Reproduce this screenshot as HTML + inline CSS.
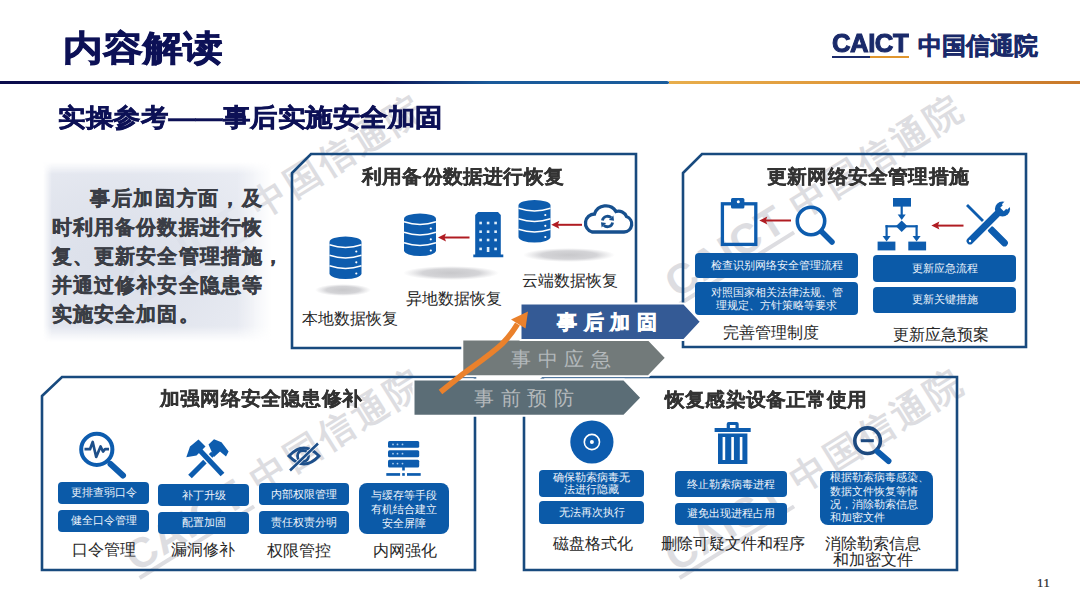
<!DOCTYPE html>
<html><head><meta charset="utf-8">
<style>
*{margin:0;padding:0;box-sizing:border-box}
html,body{width:1080px;height:608px;overflow:hidden;background:#fff}
body{position:relative;font-family:"Liberation Sans",sans-serif;color:#222}
.a{position:absolute;white-space:nowrap}
.t{position:absolute;white-space:nowrap;line-height:1}
.btn{position:absolute;background:#0b5aa8;border-radius:4px;color:#eef4fb;font-size:11px;text-align:center;line-height:13px;display:flex;align-items:center;justify-content:center;flex-direction:column;white-space:nowrap}
.lbl{position:absolute;white-space:nowrap;font-size:16px;line-height:1;color:#262626}
.hd{position:absolute;white-space:nowrap;font-size:20px;line-height:1;font-weight:bold;color:#333;-webkit-text-stroke:0.3px #333;transform:scale(1.01,0.97);transform-origin:0 0}
.wm{position:absolute;white-space:nowrap;height:38px;width:330px;color:#dddde1;display:flex;align-items:center}
.wc{display:inline-block;font-size:42px;font-weight:bold;line-height:38px;width:135px;letter-spacing:1px}
.wz{display:inline-block;font-size:36px;font-weight:bold;line-height:38px;letter-spacing:3.5px;margin-left:14px}
.wu{position:absolute;left:0;top:37px;width:135px;height:4px;background:#dddde1}
</style></head><body>

<!-- WATERMARKS -->
<div class="wm" style="left:128.8px;top:268.3px;transform:rotate(-32deg);transform-origin:0 19px"><span class="wc">CAICT</span><span class="wz">中国信通院</span><span class="wu"></span></div>
<div class="wm" style="left:668.8px;top:268.3px;transform:rotate(-32deg);transform-origin:0 19px"><span class="wc">CAICT</span><span class="wz">中国信通院</span><span class="wu"></span></div>
<div class="wm" style="left:128.8px;top:541.8px;transform:rotate(-32deg);transform-origin:0 19px"><span class="wc">CAICT</span><span class="wz">中国信通院</span><span class="wu"></span></div>
<div class="wm" style="left:668.8px;top:541.8px;transform:rotate(-32deg);transform-origin:0 19px"><span class="wc">CAICT</span><span class="wz">中国信通院</span><span class="wu"></span></div>

<!-- TITLE -->
<div class="t" style="left:63px;top:29.8px;font-size:40px;font-weight:bold;color:#0d1156;-webkit-text-stroke:1px #0d1156;transform:scaleY(0.88);transform-origin:0 0">内容解读</div>

<!-- LOGO -->
<div class="t" style="left:832px;top:30.8px;font-size:25px;font-weight:bold;color:#1a2a6a;-webkit-text-stroke:1px #1a2a6a;transform:scaleX(1.03);transform-origin:0 0;letter-spacing:-0.5px">CAICT</div>
<div class="a" style="left:832px;top:55.5px;width:38px;height:2.2px;background:#1a2a6a"></div>
<div class="a" style="left:870px;top:55.5px;width:39px;height:2.2px;background:#e0962e"></div>
<div class="t" style="left:918px;top:34px;font-size:24.2px;font-weight:bold;color:#1a2a6a;-webkit-text-stroke:0.6px #1a2a6a">中国信通院</div>

<!-- HEADER LINE -->
<div class="a" style="left:0;top:81px;width:671px;height:3.2px;background:linear-gradient(90deg,#0a0c4c 0px,#0b1050 380px,#1a5a9a 490px,#1a5c9c 671px);clip-path:polygon(0 0,667px 0,671px 50%,667px 100%,0 100%)"></div>
<div class="a" style="left:669px;top:81px;width:411px;height:3.2px;background:linear-gradient(90deg,#e8ae4c,#e09a3c 40%,#c8782a)"></div>

<!-- SUBTITLE -->
<div class="t" style="left:57.5px;top:106.2px;font-size:26.7px;font-weight:bold;color:#0d1156;-webkit-text-stroke:0.6px #0d1156;transform:scale(1.02,0.93);transform-origin:0 0">实操参考——事后实施安全加固</div>

<!-- LEFT TEXT BOX -->
<div class="a" style="left:43px;top:162px;width:228px;height:180px;-webkit-mask-image:linear-gradient(180deg,transparent 0,#000 12px,#000 164px,transparent 180px)"><div style="width:100%;height:100%;-webkit-mask-image:linear-gradient(90deg,transparent 0,#000 9px,#000 195px,transparent 228px);background:radial-gradient(ellipse 75% 70% at 30% 55%,rgba(214,219,231,0.88) 0%,rgba(221,225,235,0.88) 55%,rgba(230,233,241,0.88) 100%)"></div></div>
<div class="a" style="left:0;top:188px;font-size:20px;font-weight:bold;color:#3a3d45;line-height:20px;-webkit-text-stroke:0.4px #3a3d45">
<div class="a" style="left:90px;top:0;letter-spacing:1.7px">事后加固方面，及</div>
<div class="a" style="left:51.5px;top:29px;letter-spacing:1.2px">时利用备份数据进行恢</div>
<div class="a" style="left:51.5px;top:58px;letter-spacing:1.2px">复、更新安全管理措施，</div>
<div class="a" style="left:51.5px;top:87px;letter-spacing:1.2px">并通过修补安全隐患等</div>
<div class="a" style="left:51.5px;top:116px;letter-spacing:1.2px">实施安全加固。</div>
</div>

<!-- SHAPES -->
<svg class="a" style="left:0;top:0" width="1080" height="608" viewBox="0 0 1080 608">
 <defs>
  <g id="db">
   <path d="M0 5.5 A16 5.5 0 0 1 32 5.5 V37 A16 5.5 0 0 1 0 37 Z" fill="#0d5cae"/>
   <g fill="none" stroke="#fff" stroke-width="1.5">
    <path d="M0 8.3 Q16 13.5 32 8.3"/>
    <path d="M0 18.8 Q16 24 32 18.8"/>
    <path d="M0 29.3 Q16 34.5 32 29.3"/>
   </g>
   <g fill="#fff"><circle cx="26.8" cy="15" r="1.1"/><circle cx="26.8" cy="25.8" r="1.1"/><circle cx="26.8" cy="37" r="1.1"/></g>
  </g>
  <radialGradient id="sh"><stop offset="0" stop-color="#c8c8cb"/><stop offset="0.6" stop-color="#d4d4d7"/><stop offset="1" stop-color="#dcdcdf" stop-opacity="0"/></radialGradient>
 </defs>

 <!-- frames -->
 <g fill="none" stroke="#184a7e" stroke-width="2.6">
  <path d="M292 173 L311 154 L636 154 L636 348 L292 348 Z"/>
  <path d="M683 173 L702 154 L1026 154 L1026 347 L683 347 Z"/>
  <path d="M42 396 L62 377 L475 377 L475 570 L42 570 Z"/>
  <path d="M524 396 L544 377 L957 377 L957 570 L524 570 Z"/>
 </g>

 <!-- shadows -->
 <ellipse cx="343" cy="290" rx="28" ry="6" fill="url(#sh)"/>
 <ellipse cx="451" cy="273" rx="48" ry="7" fill="url(#sh)"/>
 <ellipse cx="569" cy="255" rx="46" ry="7" fill="url(#sh)"/>

 <!-- DB icons -->
 <use href="#db" x="329.5" y="236.5"/>
 <use href="#db" x="404" y="213.5"/>
 <use href="#db" x="518.5" y="200"/>

 <!-- building -->
 <path d="M478 212 H498 L500.8 215 V254.5 H503.3 V257.2 H473.3 V254.5 H475.2 V215 Z" fill="#0d5cae"/>
 <g fill="#dfeefa">
  <rect x="479.3" y="221.7" width="2.6" height="2.6"/><rect x="486.8" y="221.7" width="2.6" height="2.6"/><rect x="494.3" y="221.7" width="2.6" height="2.6"/>
  <rect x="479.3" y="230.4" width="2.6" height="2.6"/><rect x="486.8" y="230.4" width="2.6" height="2.6"/><rect x="494.3" y="230.4" width="2.6" height="2.6"/>
  <rect x="479.3" y="238.7" width="2.6" height="2.6"/><rect x="486.8" y="238.7" width="2.6" height="2.6"/><rect x="494.3" y="238.7" width="2.6" height="2.6"/>
  <rect x="479.3" y="247.6" width="2.6" height="2.6"/><rect x="486.8" y="247" width="2.6" height="5"/><rect x="494.3" y="247.6" width="2.6" height="2.6"/>
 </g>

 <!-- cloud -->
 <path d="M592 232 H624 A8 8 0 0 0 626.5 216.5 A8.5 8.5 0 0 0 616 211.5 A12 12 0 0 0 594.5 214 A9.2 9.2 0 0 0 592 232 Z" fill="none" stroke="#17508e" stroke-width="3.3"/>
 <g fill="none" stroke="#17508e" stroke-width="2.8">
  <path d="M602.4 220.6 A5.2 5.2 0 0 1 611.2 217.8"/>
  <path d="M612.6 222.4 A5.2 5.2 0 0 1 603.8 225.2"/>
 </g>
 <path d="M614 220.7 L613.4 215.6 L608.9 220.1 Z" fill="#17508e"/>
 <path d="M601 222.3 L601.6 227.4 L606.1 222.9 Z" fill="#17508e"/>

<!-- red arrows -->
 <g stroke="#b01c22" stroke-width="2" fill="none">
  <line x1="469.5" y1="237.5" x2="444" y2="237.5"/>
  <line x1="582" y1="224.8" x2="557" y2="224.8"/>
  <line x1="791" y1="220.5" x2="765" y2="220.5"/>
  <line x1="963.5" y1="225.6" x2="937" y2="225.6"/>
 </g>
 <g fill="#b01c22">
  <path d="M438 237.5 L446 233.5 L444.5 237.5 L446 241.5 Z"/>
  <path d="M551.3 224.8 L559.3 220.8 L557.8 224.8 L559.3 228.8 Z"/>
  <path d="M759.3 220.5 L767.3 216.5 L765.8 220.5 L767.3 224.5 Z"/>
  <path d="M931.4 225.6 L939.4 221.6 L937.9 225.6 L939.4 229.6 Z"/>
 </g>

 <!-- clipboard -->
 <rect x="722.4" y="203.8" width="33.4" height="40.6" fill="none" stroke="#0d5cae" stroke-width="3.3"/>
 <rect x="731" y="198" width="13.4" height="10.6" rx="1.5" fill="#0d5cae"/>
 <circle cx="738.3" cy="201.8" r="1.5" fill="#fff"/>
 <!-- magnifier -->
 <circle cx="811" cy="221" r="13.7" fill="none" stroke="#0d5cae" stroke-width="3.6"/>
 <line x1="822" y1="232" x2="832" y2="242" stroke="#0d5cae" stroke-width="5.5" stroke-linecap="round"/>

 <!-- flowchart -->
 <g fill="#0d5cae">
  <rect x="893" y="198" width="18" height="8.6"/>
  <rect x="877.6" y="241.6" width="17.8" height="8.8"/>
  <rect x="908.3" y="241.6" width="17.8" height="8.8"/>
  <path d="M901.7 220.5 L907.5 226.3 L901.7 232.1 L895.9 226.3 Z"/>
  <rect x="900.6" y="206" width="2.2" height="10"/>
  <path d="M897.7 214.5 H905.7 L901.7 220 Z"/>
  <rect x="885.5" y="225.2" width="32" height="2.2"/>
  <rect x="885.5" y="225.2" width="2.2" height="12"/>
  <rect x="915.5" y="225.2" width="2.2" height="12"/>
  <path d="M882.6 236 H890.6 L886.6 241.6 Z"/>
  <path d="M912.6 236 H920.6 L916.6 241.6 Z"/>
 </g>

 <!-- tools -->
 <line x1="967" y1="205" x2="989" y2="227" stroke="#0d5cae" stroke-width="2.8"/>
 <line x1="991" y1="229.5" x2="1004.5" y2="243" stroke="#0d5cae" stroke-width="6.8" stroke-linecap="round"/>
 <line x1="970" y1="241" x2="997" y2="214" stroke="#fff" stroke-width="10" stroke-linecap="round"/>
 <line x1="970" y1="241" x2="997" y2="214" stroke="#0d5cae" stroke-width="6.8" stroke-linecap="round"/>
 <circle cx="1002.5" cy="209" r="7.6" fill="#0d5cae"/>
 <path d="M1002 209.5 L1008 203.5" stroke="#fff" stroke-width="5" stroke-linecap="butt"/>
 <path d="M1004.5 207 L1012 199.5" stroke="#fff" stroke-width="7.5"/>
 <circle cx="970" cy="241" r="1.2" fill="#fff"/>

 <!-- BL icons: pulse magnifier -->
 <circle cx="96.8" cy="449.4" r="15.6" fill="none" stroke="#0d5cae" stroke-width="4"/>
 <line x1="110.5" y1="464" x2="123" y2="475.5" stroke="#0d5cae" stroke-width="6" stroke-linecap="round"/>
 <path d="M84.5 449.2 H90 L92.7 442 L96.2 457 L100.6 446.5 L103 451.5 L105 449.2 H109" fill="none" stroke="#1d4f8a" stroke-width="2.7" stroke-linejoin="round"/>

 <!-- hammers -->
 <g fill="#0d5cae">
  <path d="M190 476.5 L213 453.5" stroke="#0d5cae" stroke-width="5.2"/>
  <path d="M208.5 444.5 L214 439.2 L221.5 442.2 L228.6 451.5 L226 456.5 L220 451.5 L214 457 Z"/>
 </g>
 <path d="M200 450.5 L222.5 474.5" stroke="#fff" stroke-width="8"/>
 <path d="M200 450.5 L222.5 474.5" stroke="#0d5cae" stroke-width="5.2"/>
 <path d="M186.3 457.3 L190 446.5 L198.5 439.5 L205.5 446.5 L196.5 455.5 Z" fill="#0d5cae"/>

 <!-- eye -->
 <path d="M289 456 Q304 440 319 456 Q304 472 289 456 Z" fill="none" stroke="#1d4f8a" stroke-width="3"/>
 <circle cx="303" cy="456" r="5.5" fill="none" stroke="#1d4f8a" stroke-width="2.8"/>
 <line x1="290" y1="470.5" x2="318" y2="443.5" stroke="#fff" stroke-width="4"/>
 <line x1="290" y1="470.5" x2="318" y2="443.5" stroke="#1d4f8a" stroke-width="2.6"/>

 <!-- server -->
 <g fill="#0d5cae">
  <rect x="388" y="441" width="31.2" height="6.8" rx="1.5"/>
  <rect x="388" y="450.2" width="31.2" height="7" rx="1.5"/>
  <rect x="388" y="459.8" width="31.2" height="7.7" rx="1.5"/>
  <rect x="402.2" y="467" width="2.6" height="3.5"/>
  <rect x="386.3" y="473.1" width="13.8" height="2.7"/>
  <rect x="402.2" y="473.1" width="2.6" height="2.7"/>
  <rect x="407" y="473.1" width="13.7" height="2.7"/>
 </g>
 <g fill="#a9cdf0">
  <circle cx="393" cy="444.4" r="0.9"/><circle cx="397.5" cy="444.4" r="0.9"/><circle cx="402.5" cy="444.4" r="0.9"/>
  <circle cx="393" cy="453.7" r="0.9"/><circle cx="397.5" cy="453.7" r="0.9"/><circle cx="402.5" cy="453.7" r="0.9"/>
  <circle cx="393" cy="463.6" r="0.9"/><circle cx="397.5" cy="463.6" r="0.9"/><circle cx="402.5" cy="463.6" r="0.9"/>
 </g>

 <!-- BR icons: disk -->
 <circle cx="591.9" cy="442" r="21.6" fill="#0d5cae"/>
 <circle cx="591.9" cy="442" r="7.6" fill="none" stroke="#fff" stroke-width="1.6"/>
 <circle cx="591.9" cy="442" r="2" fill="#fff"/>
 <!-- trash -->
 <g fill="#0d5cae">
  <rect x="714.6" y="428" width="36.1" height="4"/>
  <path d="M726.7 428 V424 Q726.7 422 728.7 422 H736.7 Q738.7 422 738.7 424 V428 H735.5 V425 H729.9 V428 Z"/>
  <rect x="718" y="433.5" width="29.4" height="30.5"/>
 </g>
 <g fill="#fff">
  <rect x="722.6" y="437" width="2.6" height="23"/>
  <rect x="731.3" y="437" width="2.6" height="23"/>
  <rect x="739.8" y="437" width="2.6" height="23"/>
 </g>
 <!-- zoom out -->
 <circle cx="867.6" cy="440.7" r="12.8" fill="none" stroke="#1d4a80" stroke-width="3.6"/>
 <rect x="860.8" y="439.2" width="13" height="3" fill="#1d4a80"/>
 <line x1="877.5" y1="451.5" x2="888.5" y2="461" stroke="#0d5cae" stroke-width="6" stroke-linecap="round"/>

 <!-- stage arrows -->
 <g stroke="#fff" stroke-width="2">
  <path d="M413.5 379.6 H624 L641.5 397.7 L624 415.8 H413.5 Z" fill="#5b6d76"/>
  <path d="M462.3 339.6 H648.5 L666 357.9 L648.5 376.2 H462.3 Z" fill="#727a7a"/>
  <path d="M520.5 303.6 H684 L701 321.8 L684 340 H520.5 Z" fill="#345a95"/>
 </g>
 <!-- orange arrow -->
 <path d="M440.5 392 L463 374 C475 365 490 355 502 344 C507 339 512 333 517.5 324" fill="none" stroke="#ea812c" stroke-width="5.6" stroke-linecap="butt"/>
 <path d="M528 311.5 L511 319.5 L525.5 328.5 Z" fill="#ea812c"/>
</svg>

<!-- STAGE ARROW TEXT -->
<div class="t" style="left:557px;top:312px;font-size:20px;font-weight:bold;color:#fff;letter-spacing:6.5px;-webkit-text-stroke:0.6px #fff">事后加固</div>
<div class="t" style="left:511px;top:348.5px;font-size:20px;color:#b3b8bb;letter-spacing:6.5px">事中应急</div>
<div class="t" style="left:474px;top:387.5px;font-size:20px;color:#b3b8bb;letter-spacing:6.5px">事前预防</div>

<!-- BOX HEADERS -->
<div class="hd" style="left:361.5px;top:166.5px">利用备份数据进行恢复</div>
<div class="hd" style="left:767px;top:166.8px">更新网络安全管理措施</div>
<div class="hd" style="left:160px;top:388.5px">加强网络安全隐患修补</div>
<div class="hd" style="left:665px;top:389.5px">恢复感染设备正常使用</div>

<!-- LABELS -->
<div class="lbl" style="left:302px;top:311px">本地数据恢复</div>
<div class="lbl" style="left:406px;top:291px">异地数据恢复</div>
<div class="lbl" style="left:522px;top:273px">云端数据恢复</div>
<div class="lbl" style="left:723px;top:325px">完善管理制度</div>
<div class="lbl" style="left:893px;top:327px">更新应急预案</div>
<div class="lbl" style="left:72px;top:542px">口令管理</div>
<div class="lbl" style="left:171px;top:542px">漏洞修补</div>
<div class="lbl" style="left:267px;top:543px">权限管控</div>
<div class="lbl" style="left:373px;top:543px">内网强化</div>
<div class="lbl" style="left:553px;top:536px">磁盘格式化</div>
<div class="lbl" style="left:661px;top:536px">删除可疑文件和程序</div>
<div class="lbl" style="left:825px;top:536px">消除勒索信息</div>
<div class="lbl" style="left:833px;top:552px">和加密文件</div>

<!-- BUTTONS -->
<div class="btn" style="left:695px;top:253px;width:163px;height:25px">检查识别网络安全管理流程</div>
<div class="btn" style="left:695px;top:282px;width:163px;height:33px"><span>对照国家相关法律法规、管</span><span>理规定、方针策略等要求</span></div>
<div class="btn" style="left:873px;top:255px;width:143px;height:26.5px">更新应急流程</div>
<div class="btn" style="left:873px;top:286.5px;width:143px;height:26.5px">更新关键措施</div>

<div class="btn" style="left:58px;top:482px;width:91px;height:21.5px">更排查弱口令</div>
<div class="btn" style="left:58px;top:509.5px;width:91px;height:22px">健全口令管理</div>
<div class="btn" style="left:158px;top:484px;width:91px;height:22px">补丁升级</div>
<div class="btn" style="left:158px;top:511.5px;width:91px;height:22px">配置加固</div>
<div class="btn" style="left:258.6px;top:483px;width:90px;height:22px">内部权限管理</div>
<div class="btn" style="left:258.6px;top:511px;width:90px;height:22.5px">责任权责分明</div>
<div class="btn" style="left:358.5px;top:483px;width:90px;height:51px;border-radius:8px;line-height:14px"><span>与缓存等手段</span><span>有机结合建立</span><span>安全屏障</span></div>

<div class="btn" style="left:539px;top:470px;width:105px;height:26.5px;line-height:12.5px"><span>确保勒索病毒无</span><span>法进行隐藏</span></div>
<div class="btn" style="left:539px;top:501px;width:105px;height:22.5px">无法再次执行</div>
<div class="btn" style="left:675px;top:471px;width:112px;height:26px">终止勒索病毒进程</div>
<div class="btn" style="left:675px;top:502.5px;width:112px;height:22px">避免出现进程占用</div>
<div class="btn" style="left:820px;top:471px;width:113px;height:54px;border-radius:8px;align-items:flex-start;padding-left:10px;text-align:left;line-height:13.4px"><span>根据勒索病毒感染、</span><span>数据文件恢复等情</span><span>况，消除勒索信息</span><span>和加密文件</span></div>

<!-- PAGE NUMBER -->
<div class="t" style="left:1037px;top:576.5px;font-size:12.5px;color:#222;font-family:'Liberation Serif',serif;letter-spacing:0.8px;-webkit-text-stroke:0.2px #222">11</div>

</body></html>
